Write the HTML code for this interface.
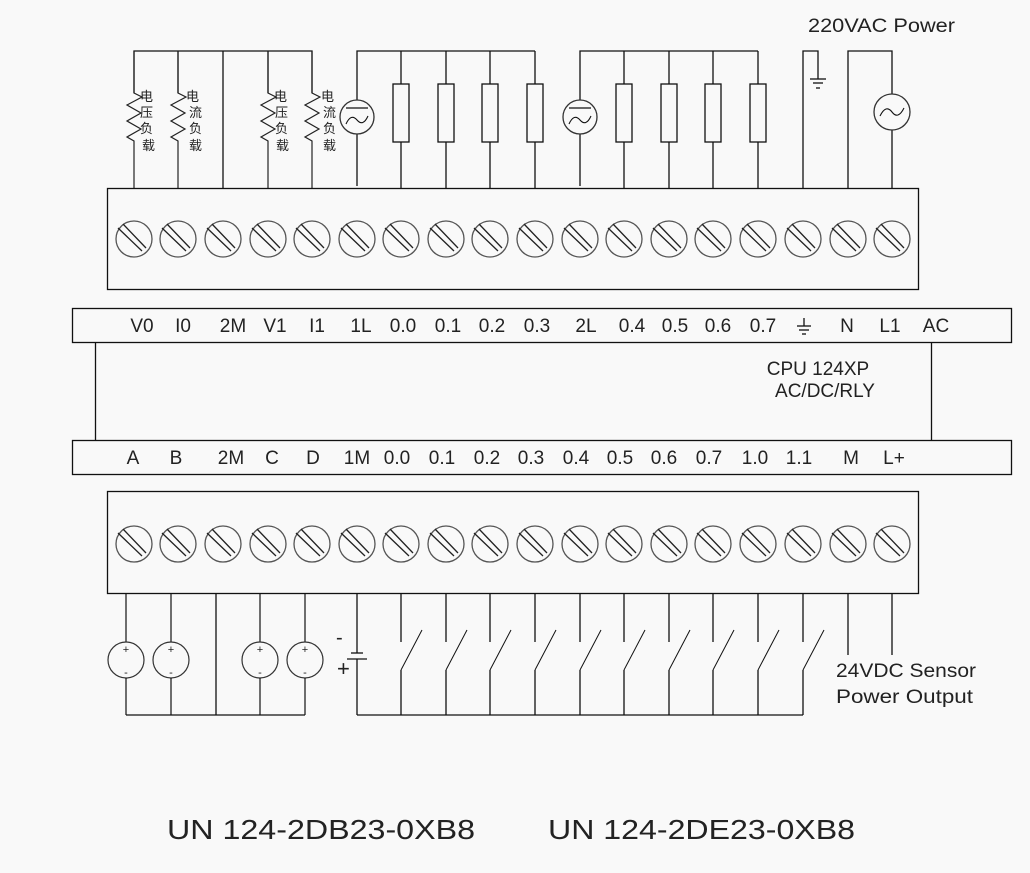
<!DOCTYPE html>
<html><head><meta charset="utf-8"><style>
html,body{margin:0;padding:0;background:#f9f9f9;}
svg{display:block}
.l{font-family:"Liberation Sans Narrow","Liberation Sans",sans-serif;font-size:19px;fill:#222;text-anchor:middle}
.c{font-family:"Liberation Sans","Noto Sans CJK SC",sans-serif;font-size:13px;fill:#222}
.t{font-family:"Liberation Sans",sans-serif;fill:#222}
</style></head><body>
<svg width="1030" height="873" viewBox="0 0 1030 873" xmlns="http://www.w3.org/2000/svg">
<defs>
<g id="sc"><circle r="18" fill="none" stroke="#555" stroke-width="1.3"/><line x1="-16" y1="-11" x2="8" y2="12" stroke="#222" stroke-width="1.3"/><line x1="-11" y1="-15" x2="12" y2="9" stroke="#222" stroke-width="1.3"/></g>
<path id="zz" d="M0,0 L0,42 L8,46 L-7,54 L7,62 L-7,70 L7,78 L-7,86 L0,90 L0,137" fill="none" stroke="#222" stroke-width="1.2"/>
<g id="res"><line x1="0" y1="51" x2="0" y2="84" stroke="#111" stroke-width="1.3"/><rect x="-8" y="84" width="16" height="58" fill="none" stroke="#111" stroke-width="1.3"/><line x1="0" y1="142" x2="0" y2="188" stroke="#111" stroke-width="1.3"/></g>
<g id="sw" stroke="#111" stroke-width="1.3" fill="none"><line x1="0" y1="594" x2="0" y2="642"/><line x1="0" y1="670" x2="21" y2="630" stroke-width="1"/><line x1="0" y1="670" x2="0" y2="715"/></g>
<g id="src" fill="none" stroke="#333" stroke-width="1.2"><line x1="0" y1="594" x2="0" y2="642" stroke="#111"/><circle cx="0" cy="660" r="18"/><line x1="0" y1="678" x2="0" y2="715" stroke="#111"/></g>
</defs>
<g stroke="#111" stroke-width="1.3" fill="none">
<path d="M134,93 L134,51 L312,51 L312,93"/>
<line x1="178" y1="51" x2="178" y2="93"/>
<line x1="223" y1="51" x2="223" y2="188"/>
<line x1="268" y1="51" x2="268" y2="93"/>
<path d="M357,100 L357,51 L535,51"/>
<path d="M580,100 L580,51 L758,51"/>
<line x1="357" y1="134" x2="357" y2="186"/>
<line x1="580" y1="134" x2="580" y2="186"/>
<path d="M803,188 L803,51 L818,51 L818,79"/>
<line x1="810" y1="79" x2="826" y2="79"/><line x1="813" y1="83" x2="823" y2="83"/><line x1="816" y1="88" x2="820" y2="88"/>
<path d="M848,188 L848,51 L892,51 L892,94"/>
<line x1="892" y1="130" x2="892" y2="188"/>
<circle cx="892" cy="112" r="18" stroke="#333"/>
<path d="M880,116 Q886,104 892,112 Q898,120 904,108" stroke-width="1.1"/>
<circle cx="357" cy="117" r="17" stroke="#333"/>
<line x1="346" y1="108" x2="368" y2="108"/>
<path d="M346,124 Q351,113 357,120 Q363,127 368,116" stroke-width="1.1"/>
<circle cx="580" cy="117" r="17" stroke="#333"/>
<line x1="569" y1="108" x2="591" y2="108"/>
<path d="M569,124 Q574,113 580,120 Q586,127 591,116" stroke-width="1.1"/>
</g>
<use href="#zz" x="134" y="51"/><use href="#zz" x="178" y="51"/><use href="#zz" x="268" y="51"/><use href="#zz" x="312" y="51"/>
<use href="#res" x="401"/><use href="#res" x="446"/><use href="#res" x="490"/><use href="#res" x="535"/>
<use href="#res" x="624"/><use href="#res" x="669"/><use href="#res" x="713"/><use href="#res" x="758"/>
<g class="c">
<text x="140" y="101">电</text><text x="140" y="117">压</text><text x="140" y="133">负</text><text x="142" y="150">载</text>
<text x="186" y="101">电</text><text x="189" y="117">流</text><text x="189" y="133">负</text><text x="189" y="150">载</text>
<text x="274" y="101">电</text><text x="275" y="117">压</text><text x="275" y="133">负</text><text x="276" y="150">载</text>
<text x="321" y="101">电</text><text x="323" y="117">流</text><text x="323" y="133">负</text><text x="323" y="150">载</text>
</g>
<rect x="107.5" y="188.5" width="811" height="101" fill="none" stroke="#111" stroke-width="1.3"/>
<rect x="107.5" y="491.5" width="811" height="102" fill="none" stroke="#111" stroke-width="1.3"/>
<g>
<use href="#sc" x="134" y="239"/><use href="#sc" x="178" y="239"/><use href="#sc" x="223" y="239"/><use href="#sc" x="268" y="239"/><use href="#sc" x="312" y="239"/><use href="#sc" x="357" y="239"/><use href="#sc" x="401" y="239"/><use href="#sc" x="446" y="239"/><use href="#sc" x="490" y="239"/><use href="#sc" x="535" y="239"/><use href="#sc" x="580" y="239"/><use href="#sc" x="624" y="239"/><use href="#sc" x="669" y="239"/><use href="#sc" x="713" y="239"/><use href="#sc" x="758" y="239"/><use href="#sc" x="803" y="239"/><use href="#sc" x="848" y="239"/><use href="#sc" x="892" y="239"/>
<use href="#sc" x="134" y="544"/><use href="#sc" x="178" y="544"/><use href="#sc" x="223" y="544"/><use href="#sc" x="268" y="544"/><use href="#sc" x="312" y="544"/><use href="#sc" x="357" y="544"/><use href="#sc" x="401" y="544"/><use href="#sc" x="446" y="544"/><use href="#sc" x="490" y="544"/><use href="#sc" x="535" y="544"/><use href="#sc" x="580" y="544"/><use href="#sc" x="624" y="544"/><use href="#sc" x="669" y="544"/><use href="#sc" x="713" y="544"/><use href="#sc" x="758" y="544"/><use href="#sc" x="803" y="544"/><use href="#sc" x="848" y="544"/><use href="#sc" x="892" y="544"/>
</g>
<g stroke="#111" stroke-width="1.3" fill="none">
<rect x="72.5" y="308.5" width="939" height="34"/>
<rect x="72.5" y="440.5" width="939" height="34"/>
<line x1="95.5" y1="343" x2="95.5" y2="440"/>
<line x1="931.5" y1="343" x2="931.5" y2="440"/>
<line x1="804" y1="318" x2="804" y2="326"/><line x1="797" y1="326" x2="811" y2="326"/><line x1="799" y1="330" x2="809" y2="330"/><line x1="802" y1="334" x2="806" y2="334"/>
</g>
<g class="l">
<text x="142" y="332">V0</text><text x="183" y="332">I0</text><text x="233" y="332">2M</text><text x="275" y="332">V1</text><text x="317" y="332">I1</text><text x="361" y="332">1L</text><text x="403" y="332">0.0</text><text x="448" y="332">0.1</text><text x="492" y="332">0.2</text><text x="537" y="332">0.3</text><text x="586" y="332">2L</text><text x="632" y="332">0.4</text><text x="675" y="332">0.5</text><text x="718" y="332">0.6</text><text x="763" y="332">0.7</text><text x="847" y="332">N</text><text x="890" y="332">L1</text><text x="936" y="332">AC</text>
<text x="818" y="375">CPU  124XP</text><text x="825" y="397">AC/DC/RLY</text>
<text x="133" y="464">A</text><text x="176" y="464">B</text><text x="231" y="464">2M</text><text x="272" y="464">C</text><text x="313" y="464">D</text><text x="357" y="464">1M</text><text x="397" y="464">0.0</text><text x="442" y="464">0.1</text><text x="487" y="464">0.2</text><text x="531" y="464">0.3</text><text x="576" y="464">0.4</text><text x="620" y="464">0.5</text><text x="664" y="464">0.6</text><text x="709" y="464">0.7</text><text x="755" y="464">1.0</text><text x="799" y="464">1.1</text><text x="851" y="464">M</text><text x="894" y="464">L+</text>
</g>
<use href="#src" x="126"/><use href="#src" x="171"/><use href="#src" x="260"/><use href="#src" x="305"/>
<g class="t" font-size="11" text-anchor="middle"><text x="126" y="653">+</text><text x="126" y="676">-</text><text x="171" y="653">+</text><text x="171" y="676">-</text><text x="260" y="653">+</text><text x="260" y="676">-</text><text x="305" y="653">+</text><text x="305" y="676">-</text></g>
<g stroke="#111" stroke-width="1.3" fill="none">
<line x1="216" y1="594" x2="216" y2="715"/>
<line x1="126" y1="715" x2="305" y2="715"/>
<line x1="357" y1="594" x2="357" y2="653"/>
<line x1="351" y1="653" x2="363" y2="653"/>
<line x1="347" y1="659" x2="367" y2="659"/>
<line x1="357" y1="659" x2="357" y2="715"/>
<line x1="357" y1="715" x2="803" y2="715"/>
<line x1="848" y1="594" x2="848" y2="655"/>
<line x1="892" y1="594" x2="892" y2="655"/>
</g>
<use href="#sw" x="401"/><use href="#sw" x="446"/><use href="#sw" x="490"/><use href="#sw" x="535"/><use href="#sw" x="580"/><use href="#sw" x="624"/><use href="#sw" x="669"/><use href="#sw" x="713"/><use href="#sw" x="758"/><use href="#sw" x="803"/>
<text class="t" x="336" y="644" font-size="20">-</text>
<text class="t" x="337" y="676" font-size="22">+</text>
<g class="t" font-size="19">
<text x="808" y="32" textLength="147" lengthAdjust="spacingAndGlyphs">220VAC Power</text>
<text x="836" y="677" textLength="140" lengthAdjust="spacingAndGlyphs">24VDC Sensor</text>
<text x="836" y="703" textLength="137" lengthAdjust="spacingAndGlyphs">Power Output</text></g>
<g class="t" font-size="28">
<text x="167" y="839" textLength="308" lengthAdjust="spacingAndGlyphs">UN 124-2DB23-0XB8</text>
<text x="548" y="839" textLength="307" lengthAdjust="spacingAndGlyphs">UN 124-2DE23-0XB8</text></g>
</svg>
</body></html>
